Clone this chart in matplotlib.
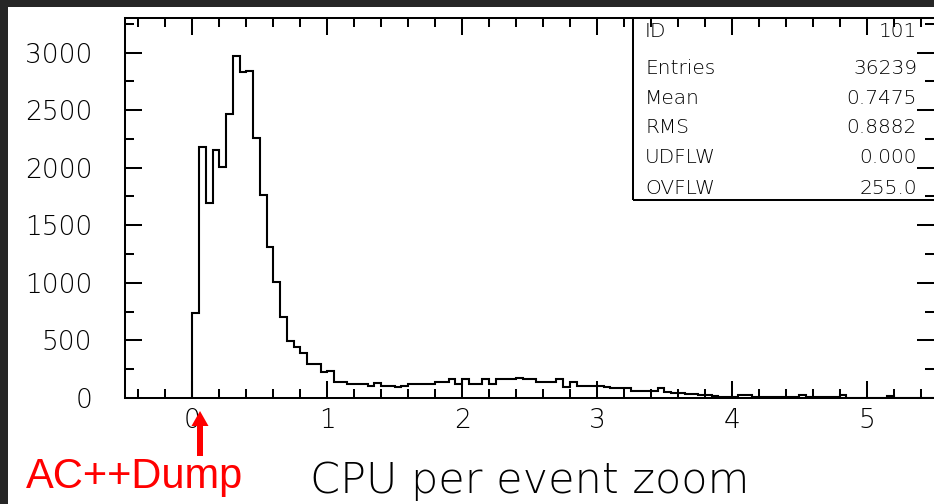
import numpy as np
import matplotlib
matplotlib.use("Agg")
import matplotlib.pyplot as plt
from matplotlib.patches import Rectangle, FancyArrow
from matplotlib.ticker import MultipleLocator

# ---------------- data ----------------
bin_width = 0.05
counts = [
    735, 2183, 1697, 2155, 2010, 2468, 2972, 2827, 2842, 2262, 1761,
    1309, 1004, 700, 497, 439, 387, 294, 294, 225, 235,
    140, 140, 120, 120, 120, 105, 126, 105, 105, 92,
    105, 120, 120, 120, 120, 140, 140, 162, 120, 162,
    120, 120, 162, 120, 169, 162, 162, 175, 162, 162,
    140, 140, 140, 162, 92, 140, 105, 105, 105, 100,
    92, 85, 85, 85, 64, 64, 64, 64, 85, 50,
    47, 47, 35, 35, 30, 28, 15, 12, 12, 12,
    30, 30, 12, 12, 12, 10, 10, 10, 10, 25,
    10, 10, 10, 10, 10, 25, 0, 0, 0, 0,
    0, 0, 20, 0, 0, 0, 0, 0, 0,
]
x_ticks = [0, 1, 2, 3, 4, 5]
y_ticks = [0, 500, 1000, 1500, 2000, 2500, 3000]
stats_labels = ["ID", "Entries", "Mean", "RMS", "UDFLW", "OVFLW"]
stats_values = ["101", "36239", "0.7475", "0.8882", "0.000", "255.0"]
x_label = "CPU per event zoom"
note_text = "AC++Dump"

# ---------------- figure ----------------
W, H = 934, 504
fig = plt.figure(figsize=(W / 100, H / 100), dpi=100)
fig.patch.set_facecolor("white")

def fx(px):
    return px / W

def fy(py):
    return 1 - py / H

# dark frame bands (top and left)
fig.patches.append(Rectangle((0, fy(7)), 1, 7 / H, transform=fig.transFigure,
                             facecolor="#262626", edgecolor="none", zorder=0))
fig.patches.append(Rectangle((0, 0), fx(8), 1, transform=fig.transFigure,
                             facecolor="#262626", edgecolor="none", zorder=0))

ax = fig.add_axes([fx(125), fy(398), fx(934) - fx(125), fy(18) - fy(398)])
edges = np.arange(len(counts) + 1) * bin_width
ax.stairs(counts, edges, fill=False, color="black", linewidth=1.5, baseline=0)

ax.set_xlim(-0.5, 5.5)
ax.set_ylim(0, 3300)

lw = 1.45
for s in ["left", "top", "bottom"]:
    ax.spines[s].set_linewidth(lw)
ax.spines["right"].set_visible(False)

ax.xaxis.set_major_locator(matplotlib.ticker.FixedLocator(x_ticks))
ax.xaxis.set_minor_locator(MultipleLocator(0.2))
ax.yaxis.set_major_locator(matplotlib.ticker.FixedLocator(y_ticks))
ax.yaxis.set_minor_locator(MultipleLocator(250))
ax.set_xticklabels([str(t) for t in x_ticks])
ax.set_yticklabels([str(t) for t in y_ticks])

ax.tick_params(which="major", direction="in", length=12.2, width=lw,
               top=True, right=True, labelsize=19, pad=7.5)
ax.tick_params(axis="y", which="major", pad=23.5)
ax.tick_params(which="minor", direction="in", length=6.2, width=lw,
               top=True, right=True)
for lab in ax.get_xticklabels() + ax.get_yticklabels():
    lab.set_fontfamily("DejaVu Sans")
    lab.set_fontweight(200)
    lab.set_color("black")

# statistics box
fig.patches.append(Rectangle((fx(633), fy(200)), fx(945) - fx(633), fy(18) - fy(200),
                             transform=fig.transFigure, fill=False,
                             edgecolor="black", linewidth=lw, zorder=5))
row_baselines = [37, 74, 104, 133, 163, 194]
for lab, val, yb in zip(stats_labels, stats_values, row_baselines):
    fig.text(fx(645), fy(yb), lab, ha="left", va="baseline", fontsize=14.5,
             family="DejaVu Sans", weight=200, color="black")
    fig.text(fx(917), fy(yb), val, ha="right", va="baseline", fontsize=14.5,
             family="DejaVu Sans", weight=200, color="black")

# x label
fig.text(fx(529.5), fy(493), x_label, ha="center", va="baseline", fontsize=31,
         family="DejaVu Sans", weight=200, color="black")

# red annotation
fig.text(fx(26), fy(488), note_text, ha="left", va="baseline", fontsize=30,
         family=["Liberation Sans", "DejaVu Sans"], color="#ff0000")
fig.patches.append(FancyArrow(2.0, (H - 456) / 100, 0, 0.45, width=0.06,
                              head_width=0.17, head_length=0.15,
                              length_includes_head=True,
                              transform=fig.dpi_scale_trans,
                              facecolor="#ff0000", edgecolor="none", zorder=6))

fig.savefig("out.png", dpi=100)
